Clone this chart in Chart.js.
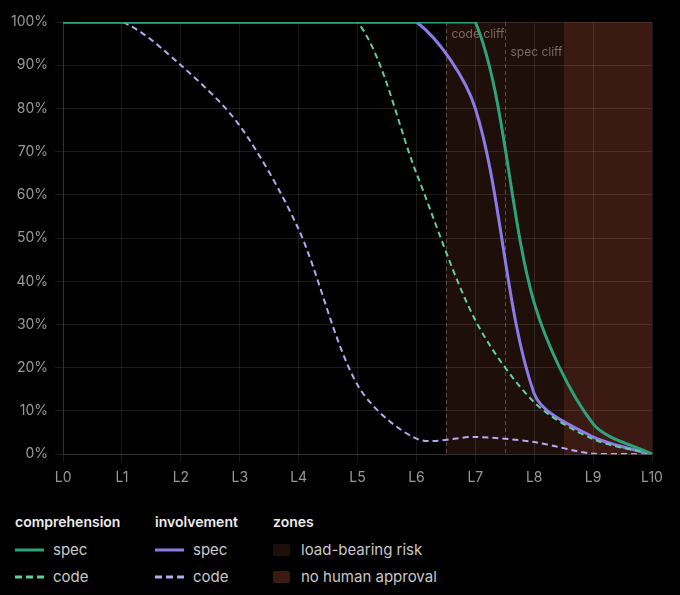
<!DOCTYPE html>
<html>
<head>
<meta charset="utf-8">
<script src="https://cdn.jsdelivr.net/npm/chart.js@4/dist/chart.umd.min.js"></script>
<style>
  html, body { margin: 0; padding: 0; background: #000; }
  body { width: 680px; height: 595px; position: relative; overflow: hidden; font-family: Inter, "DejaVu Sans", sans-serif; }
  #wrap { position: absolute; left: 0; top: 0; width: 680px; height: 495px; }
  .col { position: absolute; top: 510px; }
  .head { font-size: 14px; font-weight: 600; color: #ececec; height: 26px; line-height: 24px; }
  .row { font-size: 15px; color: #c9c9c9; height: 27px; line-height: 27px; display: flex; align-items: center; }
  .row svg { margin-right: 9px; }
  .sw { display: inline-block; width: 17px; height: 12px; border-radius: 2px; margin-right: 11px; }
</style>
</head>
<body>
<div id="wrap"><canvas id="c"></canvas></div>
<div id="legend"></div>
<script>
// ---- data ----
const levels = ["L0","L1","L2","L3","L4","L5","L6","L7","L8","L9","L10"];
const comprehensionSpec = [100,100,100,100,100,100,100,100,35,7,0];
const comprehensionCode = [100,100,100,100,100,100,65,31,12,3.5,0];
const involvementSpec   = [100,100,100,100,100,100,100,80,14,4,0];
const involvementCode   = [100,100,90,76,52,16,3.6,4,2.8,0.1,0];
const yTicks = [0,10,20,30,40,50,60,70,80,90,100];

const zoneNames  = ["load-bearing risk", "no human approval"];
const zoneStarts = [6.5, 8.5];
const zoneEnds   = [8.5, 10];
const zoneColors = ["#1f0f0b", "#3a1a12"];

const cliffPositions = [6.5, 7.5];
const cliffLabels    = ["code cliff", "spec cliff"];

const colors = {
  compSpec: "#2ea37a",
  compCode: "#5fcf9f",
  invSpec:  "#8c7ae6",
  invCode:  "#b7aaf2"
};

// ---- plugins ----
const zonesPlugin = {
  id: "zones",
  beforeDraw(chart) {
    const {ctx, chartArea: a, scales: {x}} = chart;
    ctx.save();
    zoneStarts.forEach((s, i) => {
      const x0 = x.getPixelForValue(s);
      const x1 = x.getPixelForValue(zoneEnds[i]);
      ctx.fillStyle = zoneColors[i];
      ctx.fillRect(x0, a.top, x1 - x0, a.bottom - a.top);
    });
    ctx.restore();
  }
};

const cliffPlugin = {
  id: "cliffs",
  beforeDatasetsDraw(chart) {
    const {ctx, chartArea: a, scales: {x}} = chart;
    ctx.save();
    cliffPositions.forEach((p, i) => {
      const px = Math.round(x.getPixelForValue(p)) + 0.5;
      ctx.strokeStyle = "rgba(150,120,110,0.55)";
      ctx.lineWidth = 1;
      ctx.setLineDash([4, 3]);
      ctx.beginPath();
      ctx.moveTo(px, a.top);
      ctx.lineTo(px, a.bottom);
      ctx.stroke();
      ctx.setLineDash([]);
      ctx.fillStyle = "#7b6965";
      ctx.font = "12px Inter, sans-serif";
      ctx.textBaseline = "middle";
      ctx.textAlign = "left";
      ctx.fillText(cliffLabels[i], px + 5, a.top + 12 + i * 18);
    });
    ctx.restore();
  }
};

Chart.defaults.font.family = "Inter, 'DejaVu Sans', sans-serif";
Chart.defaults.font.size = 14;
Chart.defaults.color = "#9a9a9a";

const gridColor = "rgba(255,255,255,0.10)";
const common = { tension: 0.3, pointRadius: 0 };

new Chart(document.getElementById("c"), {
  type: "line",
  data: {
    labels: levels,
    datasets: [
      Object.assign({ label: "comprehension spec", data: comprehensionSpec, borderColor: colors.compSpec, borderWidth: 3 }, common),
      Object.assign({ label: "comprehension code", data: comprehensionCode, borderColor: colors.compCode, borderWidth: 2, borderDash: [6, 4] }, common),
      Object.assign({ label: "involvement spec", data: involvementSpec, borderColor: colors.invSpec, borderWidth: 3 }, common),
      Object.assign({ label: "involvement code", data: involvementCode, borderColor: colors.invCode, borderWidth: 2, borderDash: [6, 4] }, common)
    ]
  },
  options: {
    responsive: true,
    maintainAspectRatio: false,
    animation: false,
    layout: { padding: { left: 4, top: 22, right: 28, bottom: 2 } },
    plugins: { legend: { display: false }, tooltip: { enabled: false } },
    scales: {
      x: {
        offset: false,
        grid: { color: gridColor, tickLength: 8 },
        border: { color: gridColor },
        ticks: { padding: 7, color: "#9a9a9a" }
      },
      y: {
        min: 0, max: 100,
        afterBuildTicks(scale) { scale.ticks = yTicks.map(v => ({ value: v })); },
        grid: { color: gridColor, tickLength: 8 },
        border: { color: gridColor },
        ticks: { padding: 7, color: "#9a9a9a", callback: v => v + "%" }
      }
    }
  },
  plugins: [zonesPlugin, cliffPlugin]
});

// ---- legend ----
function lineSvg(color, dashed) {
  return '<svg width="29" height="4"><line x1="0" y1="2" x2="29" y2="2" stroke="' + color + '" stroke-width="3"' +
    (dashed ? ' stroke-dasharray="7 4"' : '') + '/></svg>';
}
const legendCols = [
  { left: 15, head: "comprehension", items: [["spec", lineSvg(colors.compSpec, false)], ["code", lineSvg(colors.compCode, true)]] },
  { left: 155, head: "involvement", items: [["spec", lineSvg(colors.invSpec, false)], ["code", lineSvg(colors.invCode, true)]] },
  { left: 273, head: "zones", items: zoneNames.map((n, i) => [n, '<span class="sw" style="background:' + zoneColors[i] + '"></span>']) }
];
document.getElementById("legend").innerHTML = legendCols.map(c =>
  '<div class="col" style="left:' + c.left + 'px"><div class="head">' + c.head + '</div>' +
  c.items.map(it => '<div class="row">' + it[1] + '<span>' + it[0] + '</span></div>').join('') + '</div>'
).join('');
</script>
</body>
</html>
